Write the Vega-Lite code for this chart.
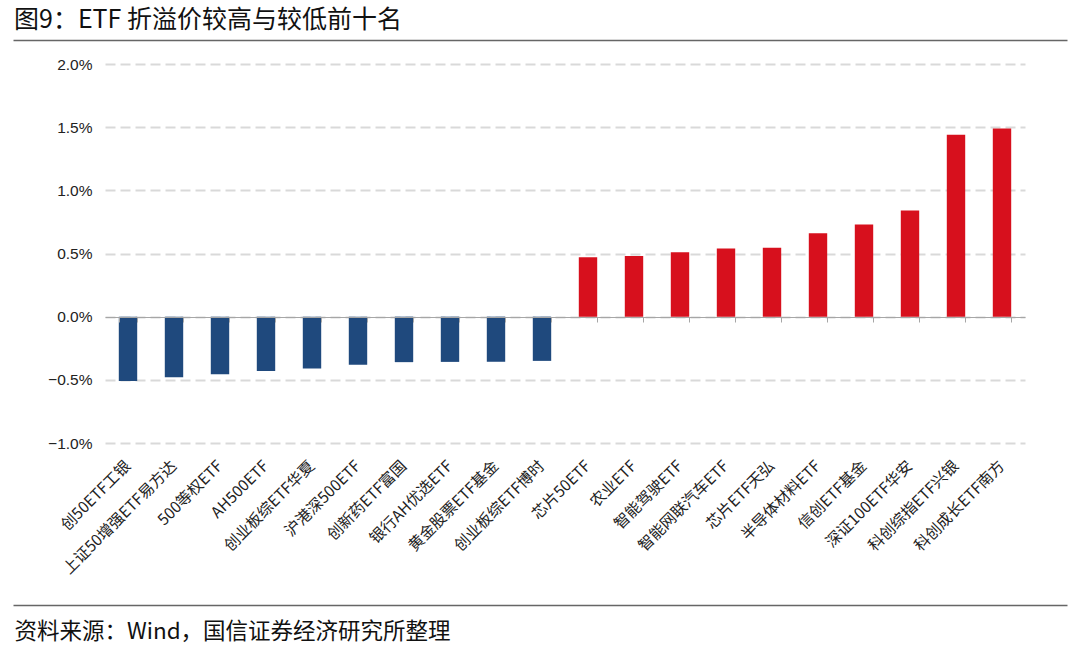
{
  "$schema": "https://vega.github.io/schema/vega-lite/v6.json",
  "width": 920,
  "height": 379,
  "autosize": {"type": "none"},
  "padding": {"left": 105, "top": 64, "right": 55, "bottom": 207},
  "background": "white",
  "config": {"view": {"stroke": null}, "font": "Noto Sans CJK SC"},
  "title": {
    "text": "图9：ETF 折溢价较高与较低前十名",
    "anchor": "start",
    "frame": "group",
    "dx": -91,
    "offset": 7,
    "fontSize": 25,
    "fontWeight": "normal",
    "color": "#111111",
    "font": "Noto Sans CJK SC"
  },
  "data": {
    "values": [
      {"name": "创50ETF工银", "value": -0.0051},
      {"name": "上证50增强ETF易方达", "value": -0.0048},
      {"name": "500等权ETF", "value": -0.00455},
      {"name": "AH500ETF", "value": -0.0043},
      {"name": "创业板综ETF华夏", "value": -0.0041},
      {"name": "沪港深500ETF", "value": -0.0038},
      {"name": "创新药ETF富国", "value": -0.0036},
      {"name": "银行AH优选ETF", "value": -0.00358},
      {"name": "黄金股票ETF基金", "value": -0.00357},
      {"name": "创业板综ETF博时", "value": -0.0035},
      {"name": "芯片50ETF", "value": 0.0047},
      {"name": "农业ETF", "value": 0.0048},
      {"name": "智能驾驶ETF", "value": 0.0051},
      {"name": "智能网联汽车ETF", "value": 0.0054},
      {"name": "芯片ETF天弘", "value": 0.00545},
      {"name": "半导体材料ETF", "value": 0.0066},
      {"name": "信创ETF基金", "value": 0.0073},
      {"name": "深证100ETF华安", "value": 0.0084},
      {"name": "科创综指ETF兴银", "value": 0.0144},
      {"name": "科创成长ETF南方", "value": 0.0149}
    ]
  },
  "resolve": {"scale": {"x": "independent"}, "axis": {"x": "independent"}},
  "layer": [
    {
      "mark": {"type": "bar"},
      "encoding": {
        "x": {
          "field": "name",
          "type": "nominal",
          "sort": null,
          "scale": {"paddingInner": 0.6, "paddingOuter": 0.3},
          "axis": {
            "orient": "bottom",
            "domain": false,
            "ticks": false,
            "grid": false,
            "labelAngle": -45,
            "labelAlign": "right",
            "labelBaseline": "middle",
            "labelPadding": 20,
            "labelFontSize": 15.5,
            "labelColor": "#222222",
            "labelFont": "Noto Sans CJK SC",
            "title": "资料来源：Wind，国信证券经济研究所整理",
            "titleX": -91,
            "titleY": 188,
            "titleAlign": "left",
            "titleAnchor": "start",
            "titleBaseline": "middle",
            "titleFontSize": 22.5,
            "titleFontWeight": "normal",
            "titleColor": "#111111",
            "titleFont": "Noto Sans CJK SC"
          }
        },
        "y": {
          "field": "value",
          "type": "quantitative",
          "scale": {"domain": [-0.01, 0.02], "nice": false},
          "axis": {
            "values": [-0.01, -0.005, 0, 0.005, 0.01, 0.015, 0.02],
            "format": ".1%",
            "domain": false,
            "ticks": false,
            "grid": true,
            "gridColor": "#d9d9d9",
            "gridDash": [10, 5],
            "gridWidth": 2,
            "labelFontSize": 15.5,
            "labelColor": "#222222",
            "labelFont": "Liberation Sans",
            "labelPadding": 13,
            "title": null
          }
        },
        "color": {
          "condition": {"test": "datum.value > 0", "value": "#D7101D"},
          "value": "#1F497D"
        }
      }
    },
    {
      "mark": {"type": "bar", "opacity": 0},
      "encoding": {
        "x": {
          "field": "name",
          "type": "nominal",
          "sort": null,
          "scale": {"paddingInner": 0.6, "paddingOuter": 0.3},
          "axis": {
            "orient": "bottom",
            "offset": -126,
            "zindex": 1,
            "domain": true,
            "domainColor": "#a6a6a6",
            "domainWidth": 1,
            "ticks": true,
            "tickBand": "extent",
            "tickColor": "#a6a6a6",
            "tickSize": 5,
            "labels": false,
            "grid": false,
            "title": null
          }
        },
        "y": {"field": "value", "type": "quantitative"}
      }
    },
    {
      "data": {"values": [{"s": 0}, {"s": 1}]},
      "mark": {"type": "rule", "opacity": 0},
      "encoding": {
        "x": {
          "field": "s",
          "type": "quantitative",
          "scale": {"domain": [0, 1], "range": [-92, 962], "nice": false, "zero": false},
          "axis": {
            "orient": "top",
            "offset": 24,
            "domain": true,
            "domainColor": "#666666",
            "domainWidth": 1.5,
            "ticks": false,
            "labels": false,
            "grid": false,
            "title": null
          }
        }
      }
    },
    {
      "data": {"values": [{"t": 0}, {"t": 1}]},
      "mark": {"type": "rule", "opacity": 0},
      "encoding": {
        "x": {
          "field": "t",
          "type": "quantitative",
          "scale": {"domain": [0, 1], "range": [-92, 962], "nice": false, "zero": false},
          "axis": {
            "orient": "bottom",
            "offset": 162,
            "domain": true,
            "domainColor": "#666666",
            "domainWidth": 1.5,
            "ticks": false,
            "labels": false,
            "grid": false,
            "title": null
          }
        }
      }
    }
  ]
}
